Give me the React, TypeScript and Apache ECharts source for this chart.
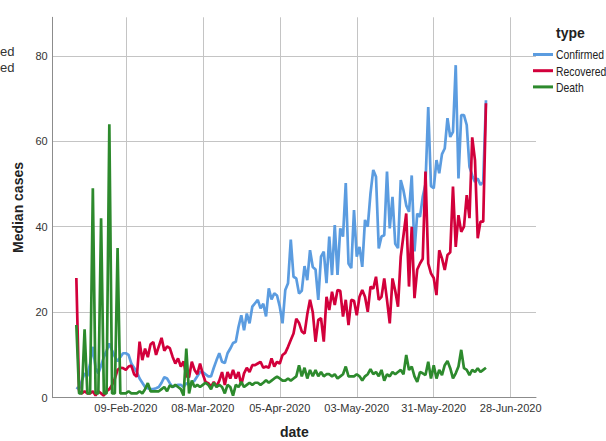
import React, { useEffect, useRef } from "react";
import * as echarts from "echarts";

// Days counted from 01-Jan-2020 (day 0). First observation: 22-Jan-2020.
const START_DAY = 21;
const X_MIN = 12.4;
const X_MAX = 188.2;
const tickDays = [39, 67, 95, 123, 151, 179];
const yTicks = [0, 20, 40, 60, 80];
const Y_MAX = 89;

const legendTitle = "type";
const seriesNames = ["Confirmed", "Recovered", "Death"];
const seriesColors = ["#5b9ce0", "#d2003b", "#2d8a2d"];
const clippedTexts = ["ed", "ed"];

const confirmed = [
  2.4, 2, 4, 5.7, 5, 8, 11.9, 7, 5.7, 7.5, 9.5, 11, 12.7, 11, 9.6, 8.5, 9.5, 10.4, 10.4, 10,
  8, 7, 6, 4.5, 3.5, 2.5, 2.2, 2, 2, 2.2, 2.5, 3.5, 4.8, 4.5, 3.4, 2.5, 2.8, 3, 3, 2.5,
  3.4, 3, 3.5, 4, 5, 6, 6, 5.5, 5, 5, 7, 8.8, 10.4, 8.4, 8.1, 10.4, 11.5, 12.8, 13.1, 16.6,
  19.3, 15.8, 19.7, 17.4, 21.3, 22.1, 22.9, 20.9, 22, 19, 25.6, 23, 24.4, 23.9, 21.3, 17.4, 25.2, 26.8, 37, 28.3,
  27.9, 24.4, 25, 30.8, 27.5, 34.5, 30.6, 30, 22.9, 33, 34.2, 26.8, 37.7, 28.7, 40.4, 28.7, 39.6, 37.7, 50.2, 31.4,
  30.3, 43.9, 33, 35.3, 30.6, 41.6, 40, 47.8, 53.3, 51.7, 34.9, 37.7, 38, 52.9, 39.6, 47, 36, 35, 50.9, 48.5,
  45, 43.5, 52, 34.2, 43.1, 42.3, 47, 50, 68, 49.5, 49, 55.6, 52.5, 57, 58.3, 65.4, 61, 62.2, 77.8, 51.3,
  66.1, 66.1, 63.8, 54, 52, 50.5, 51.3, 49.8, 50.5, 69.6,
];

const recovered = [
  28, 1.5, 1, 1.5, 1, 1, 1.5, 0.5, 1.5, 1, 0.5, 1.5, 2, 3, 4.5, 6.5, 7, 6.9, 6.5, 7.3,
  7.5, 5.5, 4.9, 13.1, 8.8, 11.5, 9.5, 12.5, 13, 10, 12, 14, 11, 12, 11.6, 9.6, 8, 9.2, 7.3, 8.5,
  5, 4.8, 8.4, 6.5, 5.5, 8, 5.5, 3.7, 3.4, 2.6, 3.7, 2.6, 4, 6, 3, 6, 4.5, 6.5, 4.5, 6,
  3, 5.7, 7, 6, 7.6, 7.6, 8, 8.4, 7, 7.3, 7, 9.2, 7.3, 8.4, 8, 10, 10.5, 11.9, 13.5, 15,
  18.5, 17.5, 15.5, 15, 19.5, 22.9, 20, 13.1, 18.2, 18.6, 13.1, 23.6, 20.5, 24.8, 21.7, 25.2, 25, 19, 22.9, 17,
  22.9, 22.7, 19.3, 23.6, 25.2, 23.6, 20.1, 26, 25.5, 28.3, 22.9, 23.6, 27.9, 22.9, 17.4, 27.9, 25, 21.3, 33, 38,
  43.1, 26, 40, 23.3, 30, 31.4, 32.5, 52.9, 31.4, 29.1, 28, 24, 34.5, 32.6, 29.9, 33.4, 34, 49.4, 35.3, 42.7,
  38.8, 40, 47.4, 42, 60.9, 55.6, 37.3, 41.2, 41.2, 68.9,
];

const death = [
  17, 1, 1, 16, 1, 1, 49, 1, 1, 42, 1, 1, 64, 1, 1, 35, 1, 1, 1, 1.5,
  1, 1, 1, 1.5, 1, 2, 3.4, 1.5, 1.5, 1.5, 1.5, 2, 2.5, 1.5, 2.9, 2.5, 3, 2.5, 2, 0.5,
  11.5, 1, 4, 2.5, 3, 2.5, 3, 3.5, 3, 2, 3.5, 2.5, 3, 2.5, 1, 3, 2.5, 0.5, 3, 2.5,
  3.7, 2.5, 3, 3.5, 3, 3.5, 3.5, 3, 3.5, 4.1, 3.5, 4, 4.5, 4.9, 4.5, 4, 4, 4.5, 4, 4.5,
  5, 7.6, 5, 7, 4.5, 6.5, 5, 6.5, 5, 6, 5, 5.5, 5.5, 5, 5.5, 4.5, 5, 5.5, 7.3, 5,
  5, 5, 5.5, 5, 4, 5, 5.5, 6.7, 5.5, 6, 5, 6.5, 4, 5.5, 5, 6, 5.5, 6, 6.5, 5.5,
  10, 6.5, 7.3, 5, 3.7, 6, 5.7, 5.3, 8.4, 4.5, 7.6, 4.5, 6.5, 5.3, 7.6, 8.6, 6.9, 4.5, 5.7, 7.3,
  11.2, 6.9, 6.5, 5.3, 6.5, 6, 6.9, 6, 6.5, 7,
];

const seriesValues = [confirmed, recovered, death];

const MONTHS = ["Jan", "Feb", "Mar", "Apr", "May", "Jun", "Jul", "Aug", "Sep", "Oct", "Nov", "Dec"];
function formatDay(day: number): string {
  const d = new Date(2020, 0, 1 + Math.round(day));
  return `${String(d.getDate()).padStart(2, "0")}-${MONTHS[d.getMonth()]}-${d.getFullYear()}`;
}

const FONT = "'Liberation Sans', Arial, sans-serif";

export default function App() {
  const ref = useRef<HTMLDivElement>(null);

  useEffect(() => {
    if (!ref.current) return;
    const chart = echarts.init(ref.current, undefined, { renderer: "svg" });

    const legendItems: any[] = [];
    seriesNames.forEach((name, k) => {
      const y = 54.5 + k * 16.2;
      legendItems.push({
        type: "line",
        shape: { x1: 533, y1: y, x2: 553, y2: y },
        style: { stroke: seriesColors[k], lineWidth: 3 },
      });
      legendItems.push({
        type: "text",
        x: 556,
        y,
        scaleX: 0.8,
        style: {
          text: name,
          fontFamily: FONT,
          fontSize: 13,
          fill: "#222",
          verticalAlign: "middle",
          align: "left",
        },
      });
    });

    chart.setOption({
      animation: false,
      backgroundColor: "#ffffff",
      grid: {
        left: 52.7,
        top: 17.3,
        right: 70,
        bottom: 43.3,
        containLabel: false,
        outerBoundsMode: "none",
      },
      xAxis: {
        type: "value",
        min: X_MIN,
        max: X_MAX,
        name: "date",
        nameLocation: "middle",
        nameGap: 27,
        nameTextStyle: { fontFamily: FONT, fontWeight: "bold", fontSize: 14, color: "#222" },
        axisLine: { show: true, onZero: false, lineStyle: { color: "#8c8c8c", width: 1 } },
        axisTick: { show: false, customValues: tickDays },
        axisLabel: {
          customValues: tickDays,
          formatter: (v: number) => formatDay(v),
          color: "#333",
          fontFamily: FONT,
          fontSize: 11,
          margin: 5,
        },
        splitLine: { show: true, lineStyle: { color: "#c4c4c4", width: 1 } },
      },
      yAxis: {
        type: "value",
        min: 0,
        max: Y_MAX,
        name: "Median cases",
        nameLocation: "middle",
        nameGap: 23,
        nameTextStyle: { fontFamily: FONT, fontWeight: "bold", fontSize: 14, color: "#222" },
        axisLine: { show: true, onZero: false, lineStyle: { color: "#8c8c8c", width: 1 } },
        axisTick: { show: false, customValues: yTicks },
        axisLabel: { customValues: yTicks, color: "#333", fontFamily: FONT, fontSize: 11, margin: 5 },
        splitLine: { show: true, lineStyle: { color: "#c4c4c4", width: 1 } },
      },
      graphic: [
        {
          type: "text",
          x: 556,
          y: 33,
          style: {
            text: legendTitle,
            fontFamily: FONT,
            fontWeight: "bold",
            fontSize: 14,
            fill: "#222",
            verticalAlign: "middle",
          },
        },
        ...clippedTexts.map((t, i) => ({
          type: "text",
          x: 0,
          y: 51 + i * 16,
          style: { text: t, fontFamily: FONT, fontSize: 13, fill: "#333", verticalAlign: "middle" },
        })),
        ...legendItems,
      ],
      series: seriesNames.map((name, k) => ({
        name,
        type: "line",
        showSymbol: false,
        symbol: "none",
        color: seriesColors[k],
        lineStyle: { width: 2.7, color: seriesColors[k] },
        data: seriesValues[k].map((v, i) => [START_DAY + i, v]),
      })),
    });
    return () => chart.dispose();
  }, []);

  return (
    <div
      ref={ref}
      style={{ position: "fixed", left: 0, top: 0, width: 606, height: 441, background: "#fff" }}
    />
  );
}
